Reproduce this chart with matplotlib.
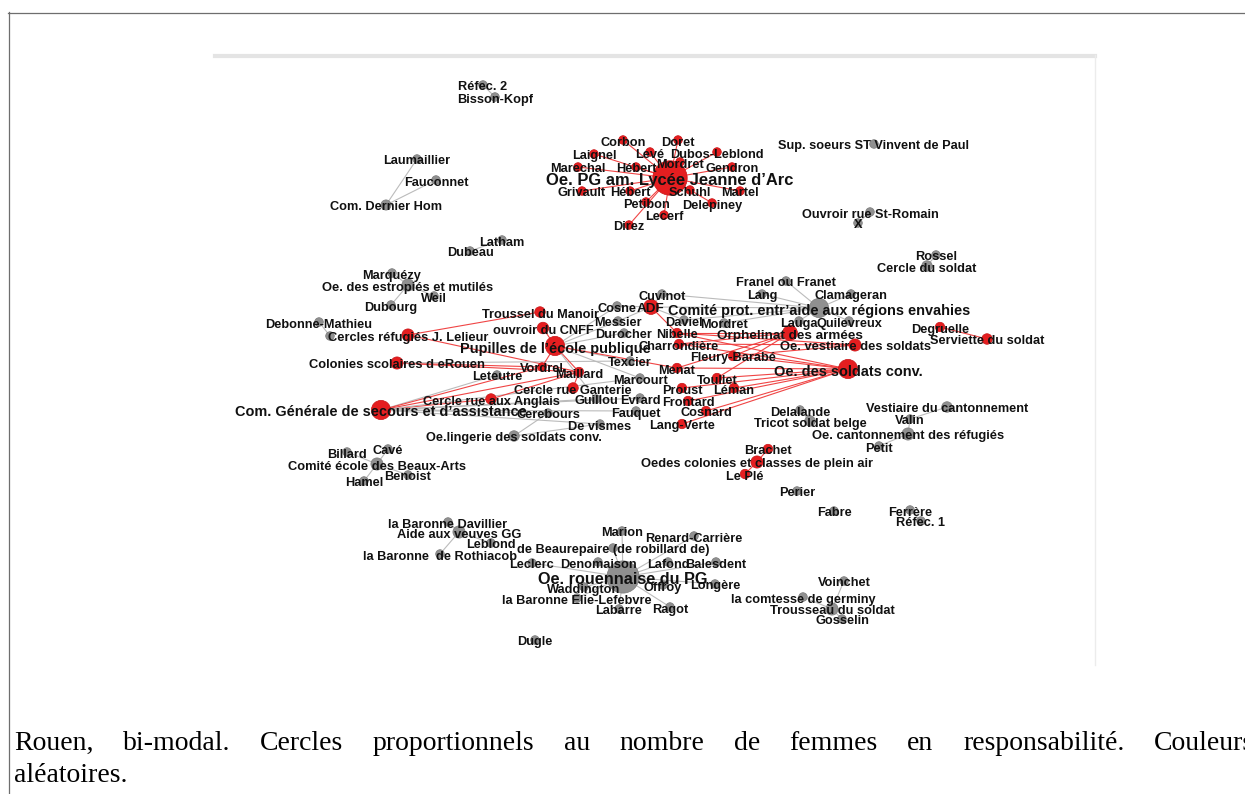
import matplotlib
matplotlib.use("Agg")
import matplotlib.pyplot as plt
import numpy as np

# ---------------- data ----------------
node_ids = [
    "refec2", "bisson", "laumaillier", "fauconnet", "comdernier", "latham", "dubeau",
    "oepg", "corbon", "doret", "leve", "dubos", "laignel", "marechal", "hebert1", "mordret1",
    "gendron", "grivault", "hebert2", "schuhl", "martel", "petibon", "delepiney", "lecerf", "direz",
    "supsoeurs", "ouvroirstr", "x", "rossel", "cerclesoldat",
    "marquezy", "estropies", "weil", "dubourg", "debonne", "anon1", "cerclesref", "colonies",
    "leteutre", "comgen", "anglais",
    "troussel", "cnff", "pupilles", "cosne", "cuvinot", "adf", "comiteprot", "messier", "durocher",
    "daviel", "mordret2", "nibelle", "charrondiere", "orphelinat", "texcier", "vordrel", "maillard",
    "menat", "fleury", "marcourt", "toullet", "ganterie", "proust", "leman", "guillou", "evrard",
    "frontard", "cerebours", "fauquet", "cosnard", "devismes", "langverte", "lingerie",
    "franel", "lang", "clamageran", "lauga", "quilevreux", "degruelle", "serviette", "vestiaire",
    "soldatsconv", "delalande", "tricot", "vestcant", "valin", "oecant", "petit",
    "brachet", "oedescol", "leple", "perier", "fabre", "ferrere", "refec1",
    "billard", "cave", "beauxarts", "benoist", "hamel",
    "davillier", "aideveuves", "leblond", "rothiacob",
    "marion", "renard", "beaurepaire", "leclerc", "denomaison", "lafond", "balesdent",
    "oerouen", "waddington", "offroy", "longere", "elielefebvre", "labarre", "ragot", "dugle",
    "voinchet", "germiny", "trousseausoldat", "gosselin",
]

node_labels = [
    "Réfec. 2", "Bisson-Kopf", "Laumaillier", "Fauconnet", "Com. Dernier Hom", "Latham", "Dubeau",
    "Oe. PG am. Lycée Jeanne d’Arc", "Corbon", "Doret", "Levé", "Dubos-Leblond", "Laignel", "Marechal",
    "Hébert", "Mordret", "Gendron", "Grivault", "Hébert", "Schuhl", "Martel", "Petibon", "Delepiney",
    "Lecerf", "Direz",
    "Sup. soeurs ST Vinvent de Paul", "Ouvroir rue St-Romain", "X", "Rossel", "Cercle du soldat",
    "Marquézy", "Oe. des estropiés et mutilés", "Weil", "Dubourg", "Debonne-Mathieu", "",
    "Cercles réfugiés J. Lelieur", "Colonies scolaires d eRouen",
    "Leteutre", "Com. Générale de secours et d’assistance", "Cercle rue aux Anglais",
    "Troussel du Manoir", "ouvroir du CNFF", "Pupilles de l’école publique", "Cosne", "Cuvinot", "ADF",
    "Comité prot. entr’aide aux régions envahies", "Messier", "Durocher",
    "Daviel", "Mordret", "Nibelle", "Charrondière", "Orphelinat des armées", "Texcier", "Vordrel",
    "Maillard", "Menat", "Fleury-Barabé", "Marcourt", "Toullet", "Cercle rue Ganterie", "Proust",
    "Léman", "Guillou", "Evrard", "Frontard", "Cerebours", "Fauquet", "Cosnard", "De vismes",
    "Lang-Verte", "Oe.lingerie des soldats conv.",
    "Franel ou Franet", "Lang", "Clamageran", "Lauga", "Quilevreux", "Degruelle",
    "Serviette du soldat", "Oe. vestiaire des soldats",
    "Oe. des soldats conv.", "Delalande", "Tricot soldat belge", "Vestiaire du cantonnement", "Valin",
    "Oe. cantonnement des réfugiés", "Petit",
    "Brachet", "Oedes colonies et classes de plein air", "Le Plé", "Perier", "Fabre", "Ferrère", "Réfec. 1",
    "Billard", "Cavé", "Comité école des Beaux-Arts", "Benoist", "Hamel",
    "la Baronne Davillier", "Aide aux veuves GG", "Leblond", "la Baronne  de Rothiacob",
    "Marion", "Renard-Carrière", "de Beaurepaire (de robillard de)", "Leclerc", "Denomaison",
    "Lafond", "Balesdent",
    "Oe. rouennaise du PG", "Waddington", "Offroy", "Longère", "la Baronne Elie-Lefebvre", "Labarre",
    "Ragot", "Dugle",
    "Voinchet", "la comtesse de germiny", "Trousseau du soldat", "Gosselin",
]

# layout coordinates (Gephi layout, expressed in image units)
node_x = [
    483, 495, 417, 436, 386, 502, 470,
    670, 623, 678, 650, 717, 594, 578, 636, 680,
    732, 582, 630, 690, 740, 646, 712, 664, 629,
    874, 870, 858, 936, 927,
    392, 408, 434, 391, 319, 330, 408, 397,
    497, 381, 491,
    540, 543, 555, 617, 662, 651, 819, 618, 624,
    684, 724, 677, 679, 790, 630, 542, 579,
    677, 733, 640, 717, 573, 682, 734, 596, 640,
    688, 548, 636, 706, 600, 682, 514,
    786, 762, 851, 799, 849, 940, 987, 855,
    848, 800, 810, 947, 910, 908, 879,
    768, 757, 745, 797, 834, 910, 921,
    347, 388, 377, 408, 364,
    448, 459, 491, 440,
    622, 694, 613, 532, 598, 668, 716,
    623, 584, 663, 715, 577, 619, 670, 535,
    844, 803, 832, 842,
]
node_y = [
    85, 97, 159, 180, 205, 240, 251,
    178, 140, 140, 152, 152, 154, 167, 167, 162,
    167, 191, 191, 190, 191, 202, 203, 215, 225,
    144, 212, 223, 255, 266,
    273, 285, 296, 305, 322, 336, 335, 363,
    375, 410, 399,
    312, 328, 346, 306, 294, 307, 308, 321, 333,
    320, 323, 333, 344, 333, 361, 367, 372,
    368, 356, 378, 378, 388, 388, 388, 399, 398,
    401, 413, 411, 411, 424, 424, 436,
    281, 294, 294, 321, 321, 327, 339, 345,
    369, 410, 421, 407, 419, 434, 446,
    449, 462, 474, 491, 511, 510, 521,
    452, 449, 464, 475, 481,
    522, 532, 543, 554,
    531, 536, 548, 563, 562, 562, 562,
    577, 587, 585, 584, 598, 609, 607, 640,
    581, 597, 609, 619,
]

# number of women in charge (circle area proportional)
node_women = [
    1, 1, 1, 1, 1.4, 1, 1,
    16, 1, 1, 1, 1, 1, 1, 1, 1, 1, 1, 1, 1, 1, 1, 1, 1, 1,
    1, 1, 1, 1, 1.5,
    1, 2, 1, 1, 1, 1, 2, 2,
    1, 5, 1.5,
    1.5, 1.8, 5, 1, 1, 3, 5, 1, 1,
    1, 1, 1.2, 1.2, 3, 1, 1, 1.2,
    1.2, 1.2, 1, 1.2, 1.5, 1.2, 1.2, 1, 1,
    1.2, 1, 1, 1.2, 1, 1.2, 1.5,
    1, 1, 1, 1, 1, 1.2, 1.5, 2,
    5, 1, 1.5, 1.5, 1, 2, 1,
    1.2, 2, 1.2, 1, 1, 1, 1,
    1, 1, 2, 1, 1,
    1, 2, 1, 1,
    1, 1, 1, 1, 1, 1, 1,
    14, 1, 1, 1, 1, 1, 1, 1,
    1, 1, 2, 1,
]

red_nodes = [
    "oepg", "corbon", "doret", "leve", "dubos", "laignel", "marechal", "hebert1", "mordret1",
    "gendron", "grivault", "hebert2", "schuhl", "martel", "petibon", "delepiney", "lecerf", "direz",
    "cerclesref", "colonies", "comgen", "anglais", "troussel", "cnff", "pupilles", "adf",
    "nibelle", "charrondiere", "orphelinat", "vordrel", "maillard", "menat", "fleury", "toullet",
    "ganterie", "proust", "leman", "frontard", "cosnard", "langverte", "degruelle", "serviette",
    "vestiaire", "soldatsconv", "brachet", "oedescol", "leple",
]

edge_src = (
    ["refec2", "comdernier", "comdernier", "latham"]
    + ["oepg"] * 17
    + ["ouvroirstr", "rossel", "estropies", "estropies", "estropies", "debonne"]
    + ["cerclesref", "cerclesref", "colonies", "colonies", "colonies"]
    + ["comgen"] * 10
    + ["anglais", "ganterie"]
    + ["pupilles"] * 10
    + ["lingerie", "lingerie"]
    + ["adf"] * 5
    + ["comiteprot"] * 9
    + ["orphelinat"] * 5
    + ["vestiaire"] * 3
    + ["soldatsconv"] * 10
    + ["degruelle", "delalande", "vestcant", "oecant", "oecant", "oedescol", "oedescol", "ferrere"]
    + ["beauxarts"] * 4
    + ["aideveuves"] * 3
    + ["oerouen"] * 13
    + ["trousseausoldat"] * 3
)
edge_dst = (
    ["bisson", "laumaillier", "fauconnet", "dubeau"]
    + ["corbon", "doret", "leve", "dubos", "laignel", "marechal", "hebert1", "mordret1", "gendron",
       "grivault", "hebert2", "schuhl", "martel", "petibon", "delepiney", "lecerf", "direz"]
    + ["x", "cerclesoldat", "marquezy", "weil", "dubourg", "anon1"]
    + ["troussel", "maillard", "vordrel", "maillard", "texcier"]
    + ["anglais", "maillard", "leteutre", "vordrel", "cerebours", "guillou", "evrard", "fauquet",
       "marcourt", "devismes"]
    + ["maillard", "maillard"]
    + ["cnff", "maillard", "vordrel", "texcier", "marcourt", "messier", "durocher", "cosne", "menat",
       "guillou"]
    + ["cerebours", "devismes"]
    + ["nibelle", "cuvinot", "cosne", "messier", "daviel"]
    + ["franel", "lang", "clamageran", "lauga", "quilevreux", "mordret2", "daviel", "adf", "cuvinot"]
    + ["nibelle", "charrondiere", "fleury", "menat", "toullet"]
    + ["nibelle", "fleury", "charrondiere"]
    + ["nibelle", "menat", "toullet", "leman", "proust", "frontard", "cosnard", "langverte", "fleury",
       "charrondiere"]
    + ["serviette", "tricot", "valin", "valin", "petit", "brachet", "leple", "refec1"]
    + ["billard", "cave", "benoist", "hamel"]
    + ["davillier", "leblond", "rothiacob"]
    + ["marion", "renard", "beaurepaire", "leclerc", "denomaison", "lafond", "balesdent",
       "waddington", "offroy", "longere", "elielefebvre", "labarre", "ragot"]
    + ["voinchet", "germiny", "gosselin"]
)

caption_line1 = "Rouen, bi-modal. Cercles proportionnels au nombre de femmes en responsabilité. Couleurs"
caption_line2 = "aléatoires."

# ---------------- drawing ----------------
W, H = 1245, 794
fig = plt.figure(figsize=(W / 100, H / 100), dpi=100)
ax = fig.add_axes([0, 0, 1, 1])
ax.set_xlim(0, W)
ax.set_ylim(H, 0)
ax.axis("off")

# page frame and panel edges
ax.plot([8.5, 8.5], [12, H], color="#6e6e6e", lw=0.9)
ax.plot([8, W], [12.5, 12.5], color="#6e6e6e", lw=0.9)
ax.plot([215, 1095], [55.5, 55.5], color="#e4e4e4", lw=3)
ax.plot([1094.5, 1094.5], [55, 665], color="#ececec", lw=1)

idx = {k: i for i, k in enumerate(node_ids)}
xs = np.array(node_x, float)
ys = np.array(node_y, float)
women = np.array(node_women, float)
is_red = np.array([k in red_nodes for k in node_ids])

RED = "#e51e20"
GRAY = "#909090"
RED_EDGE = "#ef3b3b"
GRAY_EDGE = "#b8b8b8"

for s, d in zip(edge_src, edge_dst):
    i, j = idx[s], idx[d]
    red = is_red[i] and is_red[j]
    ax.plot([xs[i], xs[j]], [ys[i], ys[j]], color=RED_EDGE if red else GRAY_EDGE,
            lw=0.8, alpha=0.95, zorder=1, solid_capstyle="round")

radius_px = 4.3 * np.sqrt(women)
sizes = (2 * radius_px * 72 / 100) ** 2
colors = [RED if r else GRAY for r in is_red]
ecolors = ["#c81416" if r else "#7a7a7a" for r in is_red]
ax.scatter(xs, ys, s=sizes, c=colors, edgecolors=ecolors, linewidths=0.5, zorder=2)

for i, lab in enumerate(node_labels):
    if not lab:
        continue
    r = radius_px[i]
    fs_px = 12.8 + 0.47 * min(max(r - 6.0, 0.0), 3.4) + 0.27 * max(r - 9.4, 0.0)
    ax.text(xs[i], ys[i] + 2.5, lab, fontsize=fs_px * 0.72, fontweight="bold",
            family="Liberation Sans", color="#111111", ha="center", va="center", zorder=3)

# caption (justified first line)
fig.canvas.draw()
renderer = fig.canvas.get_renderer()
cap_font = dict(family="Liberation Serif", fontsize=20, color="#000000")
words = caption_line1.split(" ")
tmp = [ax.text(0, 0, w, **cap_font) for w in words]
widths = []
for t in tmp:
    bb = t.get_window_extent(renderer)
    widths.append(bb.width)
    t.remove()
left, right = 14, 1254
gap = (right - left - sum(widths)) / (len(words) - 1)
xcur = left
for w, wd in zip(words, widths):
    ax.text(xcur, 750, w, va="baseline", ha="left", **cap_font)
    xcur += wd + gap
ax.text(left, 782, caption_line2, va="baseline", ha="left", **cap_font)

fig.savefig("out.png", dpi=100)
